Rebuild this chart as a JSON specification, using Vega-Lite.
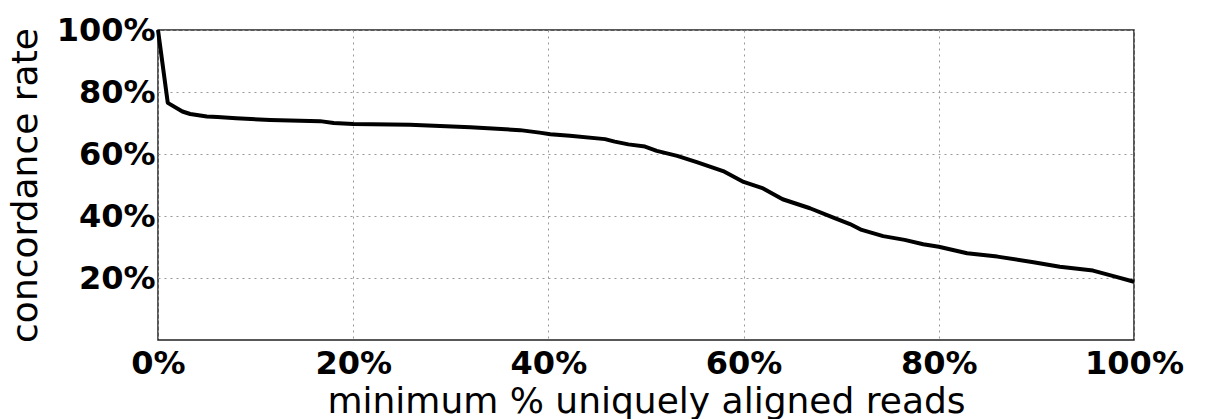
{
  "$schema": "https://vega.github.io/schema/vega-lite/v6.json",
  "width": 976,
  "height": 310,
  "autosize": {"type": "none"},
  "padding": {"left": 158, "top": 30, "right": 73, "bottom": 79},
  "background": "white",
  "config": {
    "view": {"stroke": "#222", "strokeWidth": 1.5},
    "font": "DejaVu Sans"
  },
  "data": {
    "values": [
      {"x": 0, "y": 100},
      {"x": 1.0, "y": 76.5},
      {"x": 2.5, "y": 73.7},
      {"x": 3.3, "y": 72.9},
      {"x": 5, "y": 72.1},
      {"x": 6.1, "y": 71.9},
      {"x": 8, "y": 71.5},
      {"x": 11.5, "y": 71.0},
      {"x": 16.6, "y": 70.6},
      {"x": 18.0, "y": 70.0},
      {"x": 20, "y": 69.7},
      {"x": 25.8, "y": 69.4},
      {"x": 32.0, "y": 68.6},
      {"x": 37.1, "y": 67.7},
      {"x": 39.1, "y": 66.9},
      {"x": 40.2, "y": 66.4},
      {"x": 42.2, "y": 65.9},
      {"x": 45.8, "y": 64.8},
      {"x": 46.8, "y": 64.0},
      {"x": 48.2, "y": 63.1},
      {"x": 49.9, "y": 62.4},
      {"x": 51.1, "y": 61.0},
      {"x": 53.2, "y": 59.4},
      {"x": 55.2, "y": 57.4},
      {"x": 57.9, "y": 54.5},
      {"x": 60.0, "y": 51.0},
      {"x": 62.0, "y": 48.9},
      {"x": 64.0, "y": 45.4},
      {"x": 66.8, "y": 42.5},
      {"x": 69.2, "y": 39.5},
      {"x": 70.9, "y": 37.4},
      {"x": 72.1, "y": 35.5},
      {"x": 74.3, "y": 33.5},
      {"x": 76.5, "y": 32.3},
      {"x": 78.4, "y": 30.9},
      {"x": 80.0, "y": 30.1},
      {"x": 82.9, "y": 28.0},
      {"x": 86.0, "y": 26.9},
      {"x": 89.7, "y": 25.1},
      {"x": 92.4, "y": 23.6},
      {"x": 95.8, "y": 22.4},
      {"x": 97.8, "y": 20.7},
      {"x": 100, "y": 18.8}
    ]
  },
  "mark": {"type": "line", "color": "black", "strokeWidth": 4, "strokeJoin": "round"},
  "encoding": {
    "x": {
      "field": "x",
      "type": "quantitative",
      "scale": {"domain": [0, 100], "nice": false, "zero": false},
      "axis": {
        "values": [0, 20, 40, 60, 80, 100],
        "labelExpr": "datum.value + '%'",
        "labelFont": "DejaVu Sans",
        "labelFontWeight": "bold",
        "labelFontSize": 32,
        "labelColor": "black",
        "labelPadding": 8,
        "labelFlush": false,
        "labelOverlap": false,
        "ticks": false,
        "domain": false,
        "grid": true,
        "gridColor": "#999",
        "gridDash": [2, 4],
        "gridWidth": 1,
        "title": "minimum % uniquely aligned reads",
        "titleFont": "DejaVu Sans",
        "titleFontWeight": "normal",
        "titleFontSize": 36,
        "titleColor": "black",
        "titlePadding": 5
      }
    },
    "y": {
      "field": "y",
      "type": "quantitative",
      "scale": {"domain": [0, 100], "nice": false, "zero": false},
      "axis": {
        "values": [20, 40, 60, 80, 100],
        "labelExpr": "datum.value + '%'",
        "labelFont": "DejaVu Sans",
        "labelFontWeight": "bold",
        "labelFontSize": 32,
        "labelColor": "black",
        "labelPadding": 3,
        "labelFlush": false,
        "labelOverlap": false,
        "ticks": false,
        "domain": false,
        "grid": true,
        "gridColor": "#999",
        "gridDash": [2, 4],
        "gridWidth": 1,
        "title": "concordance rate",
        "titleFont": "DejaVu Sans",
        "titleFontWeight": "normal",
        "titleFontSize": 36,
        "titleColor": "black",
        "titlePadding": 12
      }
    }
  }
}
